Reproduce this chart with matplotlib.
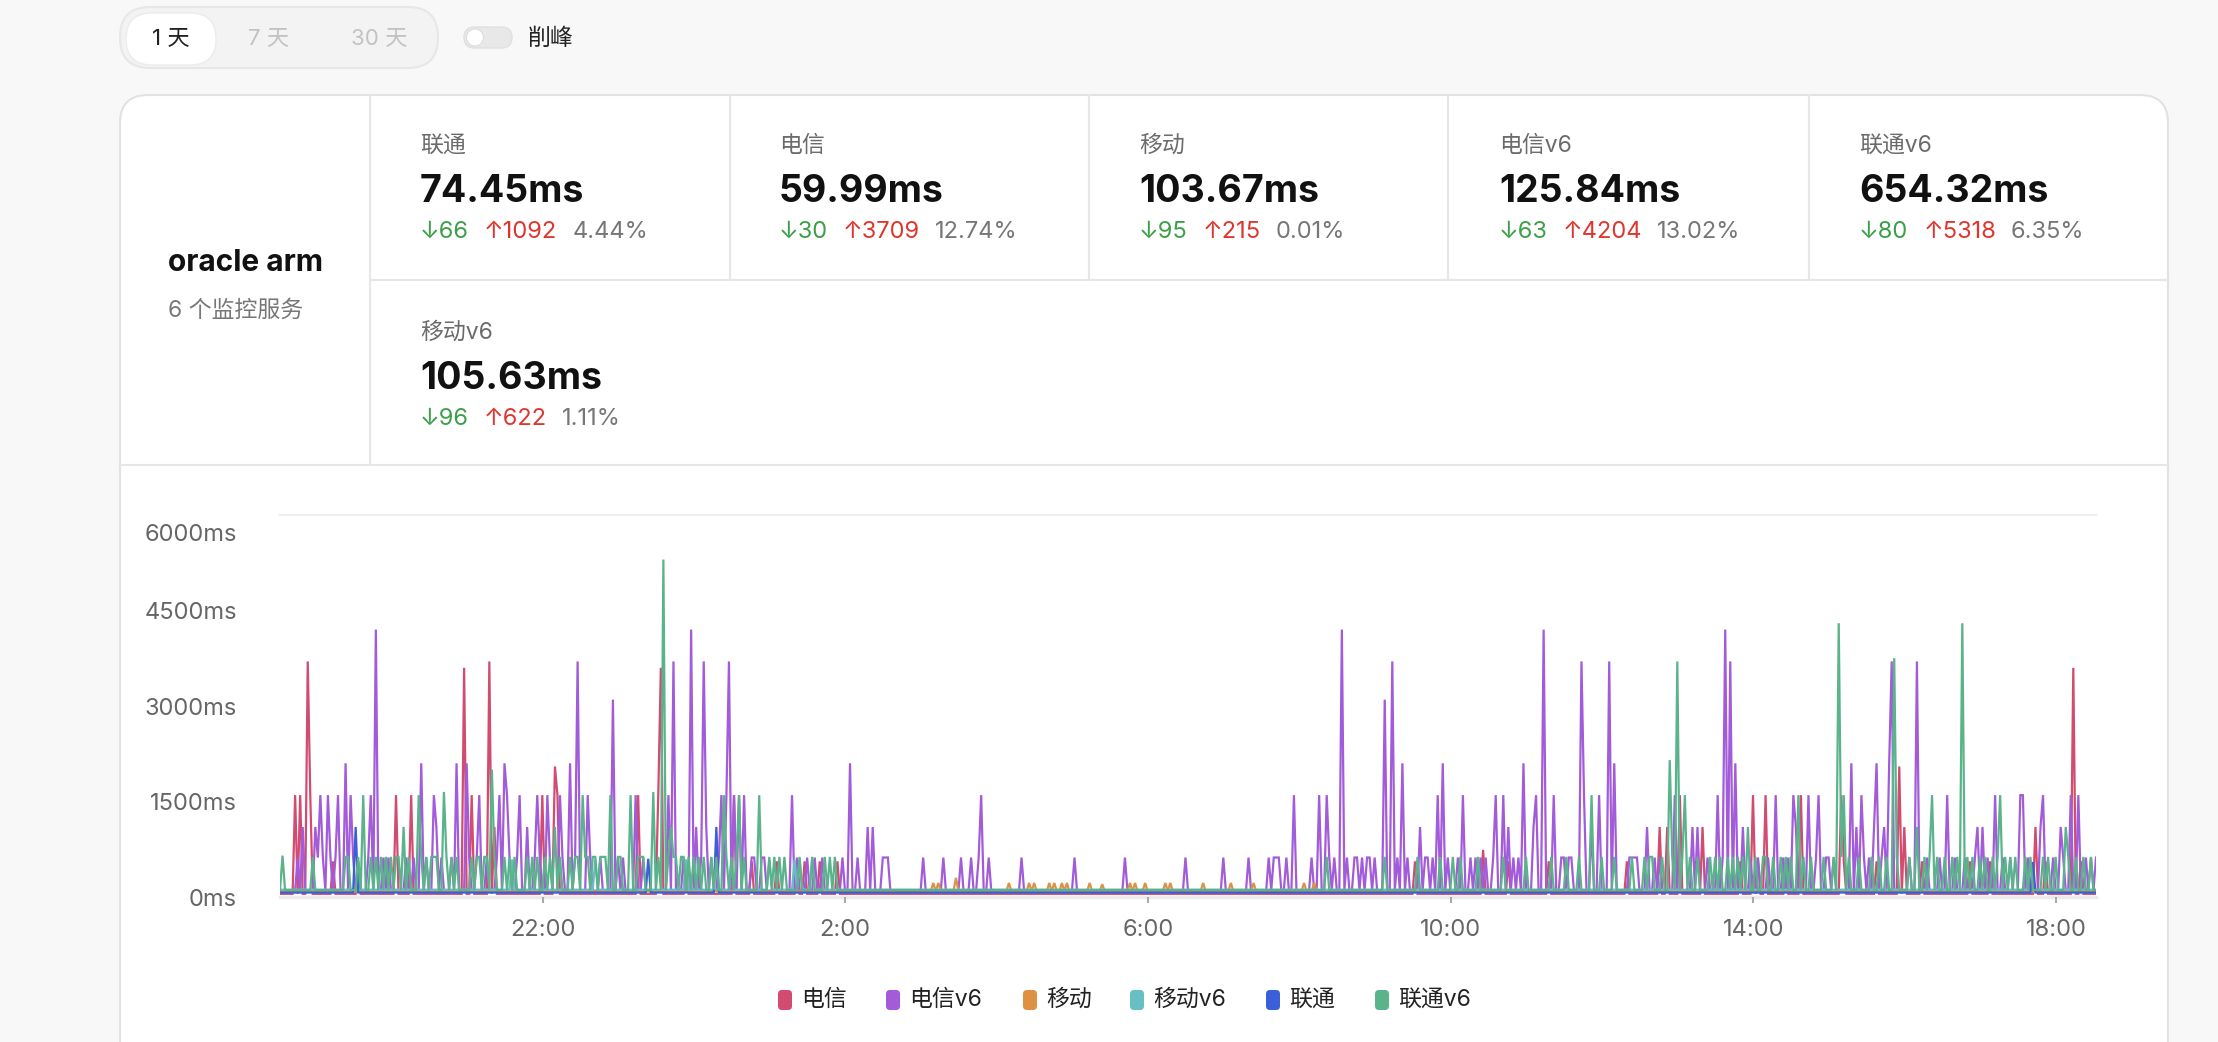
import numpy as np
import matplotlib
matplotlib.use("Agg")
import matplotlib.pyplot as plt
from matplotlib.patches import FancyBboxPatch, Circle

plt.rcParams['font.family'] = ['Inter', 'Noto Sans CJK SC', 'DejaVu Sans']

W, H = 2218, 1042

# ---- 统计卡片
server_name = 'oracle arm'
server_sub = '6 个监控服务'
stat_names = ['联通', '电信', '移动', '电信v6', '联通v6', '移动v6']
stat_avg = ['74.45ms', '59.99ms', '103.67ms', '125.84ms', '654.32ms', '105.63ms']
stat_down = [66, 30, 95, 63, 80, 96]
stat_up = [1092, 3709, 215, 4204, 5318, 622]
stat_loss = ['4.44%', '12.74%', '0.01%', '13.02%', '6.35%', '1.11%']
ranges = ['1 天', '7 天', '30 天']

# ---- 图表
series = ['电信', '电信v6', '移动', '移动v6', '联通', '联通v6']
colors = ['#d24b70', '#a25bd9', '#dd9142', '#68bfc3', '#3a5fd6', '#5bb38c']
baseline = [50, 100, 90, 115, 70, 110]
t_start, t_end = 18.53, 42.53          # 钟点小时, 过了午夜 +24
xtick_pos = [22, 26, 30, 34, 38, 42]
xtick_lab = ['22:00', '2:00', '6:00', '10:00', '14:00', '18:00']
ytick_pos = [0, 1500, 3000, 4500]
ytick_lab = ['0ms', '1500ms', '3000ms', '4500ms']
y_top = 6000

# 电信
dx_peaks = [(18.72, 1600), (18.81, 1600), (18.89, 3700), (18.93, 1600), (20.05, 1600),
            (20.25, 1600), (20.95, 3600), (21.07, 1600), (21.29, 3700), (21.37, 1100),
            (22.01, 1600), (22.17, 2050), (22.21, 1600), (23.25, 1600), (23.52, 1650),
            (23.57, 3600), (24.52, 1600), (34.44, 740), (36.75, 1100), (36.86, 1100),
            (37.03, 1600), (37.32, 1100), (37.99, 1600), (38.15, 1600), (38.62, 1600),
            (39.15, 1600), (39.94, 2050), (39.99, 1100), (41.73, 1100), (42.24, 3600)]
dx_mid = [19.24, 19.57, 23.90, 24.77, 25.11, 25.35, 25.46, 25.66, 25.90, 33.54, 34.75,
          35.30, 36.33, 37.82, 38.07, 38.44, 39.19, 39.63, 40.24, 40.86, 41.13, 41.87, 42.33]

# 电信v6
dxv6_peaks = [(18.82, 1100), (18.99, 1100), (19.06, 1600), (19.16, 1600), (19.31, 1600),
              (19.39, 2100), (19.46, 1600), (19.72, 1600), (19.81, 4200), (20.39, 2100),
              (20.57, 1600), (20.60, 1100), (20.87, 2100), (20.99, 2100), (21.18, 1600),
              (21.43, 1600), (21.51, 2100), (21.54, 1600), (21.71, 1600), (21.79, 1100),
              (21.94, 1600), (22.06, 1600), (22.24, 1600), (22.35, 2100), (22.46, 3700),
              (22.59, 1600), (22.92, 3100), (23.24, 1600), (23.65, 1600), (23.74, 3700),
              (23.97, 4200), (24.03, 1100), (24.12, 3700), (24.16, 1100), (24.37, 1600),
              (24.43, 1600), (24.47, 3700), (24.54, 1600), (24.60, 1600), (24.67, 1600),
              (25.29, 1600), (26.05, 2100), (26.29, 1100), (26.35, 1100), (27.80, 1600),
              (31.93, 1600), (32.26, 1600), (32.35, 1600), (32.56, 4200), (33.13, 3100),
              (33.23, 3700), (33.37, 2100), (33.61, 1100), (33.83, 1600), (33.91, 2100),
              (34.18, 1600), (34.61, 1600), (34.69, 1600), (34.78, 1100), (34.98, 2100),
              (35.10, 1100), (35.14, 1600), (35.23, 4200), (35.36, 1600), (35.73, 3700),
              (35.76, 1600), (35.85, 1100), (35.96, 1600), (36.09, 3700), (36.15, 2100),
              (36.59, 1100), (36.96, 1600), (37.19, 1100), (37.27, 1100), (37.54, 1600),
              (37.62, 4200), (37.69, 3700), (37.77, 2100), (37.85, 1100), (38.31, 1600),
              (38.54, 1600), (38.57, 1100), (38.73, 1600), (38.87, 1600), (39.29, 2100),
              (39.35, 1100), (39.43, 1600), (39.60, 1100), (39.62, 2100), (39.72, 1100),
              (39.81, 2100), (39.84, 3700), (40.18, 3700), (40.57, 1600), (40.97, 1100),
              (41.04, 1100), (41.19, 1600), (41.52, 1600), (41.57, 1600), (41.79, 1100),
              (41.84, 1600), (42.05, 1100), (42.20, 1600), (42.31, 1600)]
dxv6_mid = [18.76, 19.03, 19.11, 19.20, 19.27, 19.51, 19.69, 19.91, 19.95, 20.19, 20.30,
            20.48, 20.65, 20.81, 21.03, 21.14, 21.27, 21.40, 21.58, 21.67, 21.89, 21.98,
            22.11, 22.28, 22.42, 22.64, 22.77, 22.99, 23.08, 23.34, 23.87, 24.09, 24.22,
            24.33, 24.77, 24.79, 24.90, 24.92, 25.38, 25.49, 25.60, 25.69, 25.97, 26.17,
            26.50, 26.54, 26.58, 27.04, 27.29, 27.53, 27.67, 27.75, 27.90, 28.32, 28.34,
            29.03, 29.70, 30.51, 30.99, 31.33, 31.59, 31.65, 31.69, 31.73, 31.83, 32.18,
            32.41, 32.46, 32.63, 32.73, 32.78, 32.83, 32.90, 32.93, 32.99, 33.29, 33.44,
            33.67, 33.71, 33.76, 33.98, 34.11, 34.28, 34.33, 34.39, 34.47, 34.58, 34.84,
            34.90, 35.45, 35.49, 35.58, 35.61, 36.36, 36.45, 36.41, 36.44, 36.70, 36.77,
            37.40, 37.60, 37.95, 38.05, 38.21, 38.40, 38.48, 38.84, 38.97, 39.01, 39.05,
            39.48, 39.52, 39.70, 40.05, 40.30, 40.45, 40.66, 40.80, 40.92, 41.10, 41.30,
            41.40, 41.62, 41.95, 42.10, 42.40, 42.47, 42.53]

# 移动
yd_peaks = [(27.47, 300), (28.49, 220), (29.40, 200)]
yd_mid = [27.17, 27.24, 28.15, 28.42, 28.71, 28.77, 28.85, 28.93, 29.22, 29.75, 29.82,
          29.95, 30.24, 30.31, 30.74, 31.11, 31.39, 32.05, 32.20]

# 移动v6
ydv6_peaks = []
ydv6_mid = [21.60, 22.70, 23.90, 24.50, 25.00, 25.34, 25.41, 25.56]

# 联通
lt_peaks = [(19.52, 1100), (24.29, 1100), (23.41, 600), (41.69, 550)]
lt_mid = []

# 联通v6
ltv6_peaks = [(18.56, 650), (19.64, 1600), (20.16, 1100), (20.36, 1600), (20.71, 1650),
              (21.32, 2000), (22.16, 1100), (22.54, 1600), (22.89, 1600), (23.17, 1600),
              (23.45, 1650), (23.61, 5300), (23.69, 1100), (24.39, 1600), (24.61, 1600),
              (24.85, 1600), (35.88, 1600), (36.89, 2150), (36.99, 3700), (37.11, 1600),
              (37.92, 1100), (38.60, 1600), (39.12, 4300), (39.21, 1600), (39.86, 3750),
              (40.18, 1100), (40.37, 1600), (40.75, 4300), (41.26, 1600), (42.14, 1100)]
ltv6_mid = [18.96, 19.40, 19.44, 19.58, 19.73, 19.80, 19.86, 19.93, 19.99, 20.05, 20.11,
            20.22, 20.35, 20.41, 20.48, 20.52, 20.57, 20.61, 20.74, 20.81, 20.88, 21.05,
            21.12, 21.18, 21.23, 21.27, 21.36, 21.49, 21.56, 21.62, 21.80, 21.87, 21.93,
            22.02, 22.09, 22.24, 22.37, 22.44, 22.48, 22.53, 22.57, 22.61, 22.66, 22.70,
            22.75, 22.79, 22.84, 22.90, 22.99, 23.03, 23.16, 23.25, 23.30, 23.34, 23.47,
            23.54, 23.65, 23.74, 23.78, 23.83, 23.87, 23.94, 24.00, 24.07, 24.13, 24.22,
            24.31, 24.42, 24.44, 24.49, 24.55, 24.56, 24.68, 25.00, 25.07, 25.14, 25.20,
            25.41, 25.56, 25.72, 25.79, 25.86, 32.37, 33.14, 33.56, 33.88, 34.03, 34.14,
            34.36, 34.70, 35.01, 35.32, 35.53, 35.69, 35.99, 36.16, 36.41, 36.55, 36.62,
            36.68, 36.80, 36.92, 37.06, 37.15, 37.25, 37.43, 37.50, 37.58, 37.66, 37.73,
            37.80, 37.88, 38.03, 38.12, 38.18, 38.26, 38.36, 38.44, 38.50, 38.66, 38.78,
            38.92, 39.08, 39.18, 39.25, 39.40, 39.55, 39.66, 39.76, 39.90, 40.08, 40.15,
            40.25, 40.33, 40.43, 40.52, 40.62, 40.70, 40.82, 40.90, 41.00, 41.08, 41.15,
            41.22, 41.32, 41.40, 41.48, 41.60, 41.68, 41.84, 41.90, 42.00, 42.17, 42.28,
            42.36, 42.45]

peaks = [dx_peaks, dxv6_peaks, yd_peaks, ydv6_peaks, lt_peaks, ltv6_peaks]
mids = [dx_mid, dxv6_mid, yd_mid, ydv6_mid, lt_mid, ltv6_mid]
mid_val = [560, 620, 220, 590, 560, 630]

grid = np.arange(t_start, t_end + 1e-9, 2 / 60)


def build(base, pk, md, mv):
    y = np.full(len(grid), float(base))
    for t in md:
        y[np.argmin(np.abs(grid - t))] = mv
    for t, v in pk:
        y[np.argmin(np.abs(grid - t))] = v
    return y


fig = plt.figure(figsize=(W / 100, H / 100), dpi=100)
fig.patch.set_facecolor('#f8f8f8')

bg = fig.add_axes([0, 0, 1, 1])
bg.set_xlim(0, W)
bg.set_ylim(H, 0)
bg.axis('off')

line_c = '#e6e6e6'

# 时间范围切换
bg.add_patch(FancyBboxPatch((120, 7), 318, 61, boxstyle='round,pad=0,rounding_size=30',
                            fc='#f3f3f3', ec='#e7e7e7', lw=1.5))
bg.add_patch(FancyBboxPatch((126, 13), 90, 52, boxstyle='round,pad=0,rounding_size=26',
                            fc='white', ec='#ececec', lw=1))
for txt, cx, c in zip(ranges, [171, 269, 379], ['#222222', '#c2c2c2', '#c2c2c2']):
    bg.text(cx, 39, txt, ha='center', va='center', fontsize=16, color=c)

# 削峰 开关
bg.add_patch(FancyBboxPatch((464, 27), 48, 21, boxstyle='round,pad=0,rounding_size=10.5',
                            fc='#e8e8e8', ec='#e0e0e0', lw=1))
bg.add_patch(Circle((475, 37.5), 8.5, fc='white', ec='#dddddd', lw=0.8))
bg.text(528, 39, '削峰', ha='left', va='center', fontsize=16.5, color='#222222')

# 卡片
bg.add_patch(FancyBboxPatch((120, 95), 2048, 1000, boxstyle='round,pad=0,rounding_size=28',
                            fc='white', ec='#e2e2e2', lw=1.5))
bg.plot([370, 370], [95, 465], color=line_c, lw=1.5)
bg.plot([370, 2168], [280, 280], color=line_c, lw=1.5)
bg.plot([120, 2168], [465, 465], color=line_c, lw=1.5)
for xd in [730, 1089, 1448, 1809]:
    bg.plot([xd, xd], [95, 280], color=line_c, lw=1.5)

bg.text(168, 263, server_name, ha='left', va='center', fontsize=21.5, fontweight='bold',
        color='#111111')
bg.text(168, 311, server_sub, ha='left', va='center', fontsize=16.5, color='#777777')

fig.canvas.draw()
renderer = fig.canvas.get_renderer()

cell_x = [420, 779, 1139, 1499, 1859, 420]
cell_y = [146, 146, 146, 146, 146, 333]
for i, name in enumerate(stat_names):
    x0, y0 = cell_x[i], cell_y[i]
    bg.text(x0, y0, name, ha='left', va='center', fontsize=16.5, color='#6b6b6b')
    bg.text(x0, y0 + 46, stat_avg[i], ha='left', va='center', fontsize=27,
            fontweight='bold', color='#111111')
    xs = x0
    for txt, c in [('↓' + str(stat_down[i]), '#3c9f48'), ('↑' + str(stat_up[i]), '#e0352e'),
                   (stat_loss[i], '#777777')]:
        t = bg.text(xs, y0 + 86, txt, ha='left', va='center', fontsize=17, color=c)
        bb = t.get_window_extent(renderer)
        xs = bb.x1 + 15

# 折线图
ax = fig.add_axes([280 / W, 1 - 897 / H, (2096 - 280) / W, (897 - 515) / H])
ax.set_facecolor('none')
for i, name in enumerate(series):
    y = build(baseline[i], peaks[i], mids[i], mid_val[i])
    ax.plot(grid, y, color=colors[i], lw=1.6, solid_joinstyle='miter', zorder=3 + i)

ax.set_xlim(t_start, t_end)
ax.set_ylim(0, y_top)
ax.axhline(y_top, color='#eeeeee', lw=1.5, clip_on=False, zorder=1)
for s in ['top', 'right', 'left']:
    ax.spines[s].set_visible(False)
ax.spines['bottom'].set_color('#ebebeb')
ax.spines['bottom'].set_linewidth(2.5)
ax.spines['bottom'].set_zorder(1)
ax.set_xticks(xtick_pos)
ax.set_xticklabels(xtick_lab)
ax.set_yticks(ytick_pos)
ax.set_yticklabels(ytick_lab)
ax.tick_params(axis='x', length=4, width=1.5, color='#aaaaaa', pad=12, labelsize=17,
               labelcolor='#666666')
ax.tick_params(axis='y', length=0, pad=31, labelsize=17, labelcolor='#666666')
bg.text(237, 535, f'{y_top}ms', ha='right', va='center', fontsize=17, color='#666666')

# 图例
leg_mark = [785, 893, 1030, 1137, 1273, 1382]
for i, name in enumerate(series):
    bg.add_patch(FancyBboxPatch((leg_mark[i] - 7, 990), 14, 20,
                                boxstyle='round,pad=0,rounding_size=4',
                                fc=colors[i], ec='none'))
    bg.text(leg_mark[i] + 16, 1000, name, ha='left', va='center', fontsize=16.5,
            color='#222222')

fig.savefig('out.png', dpi=100, facecolor=fig.get_facecolor())
